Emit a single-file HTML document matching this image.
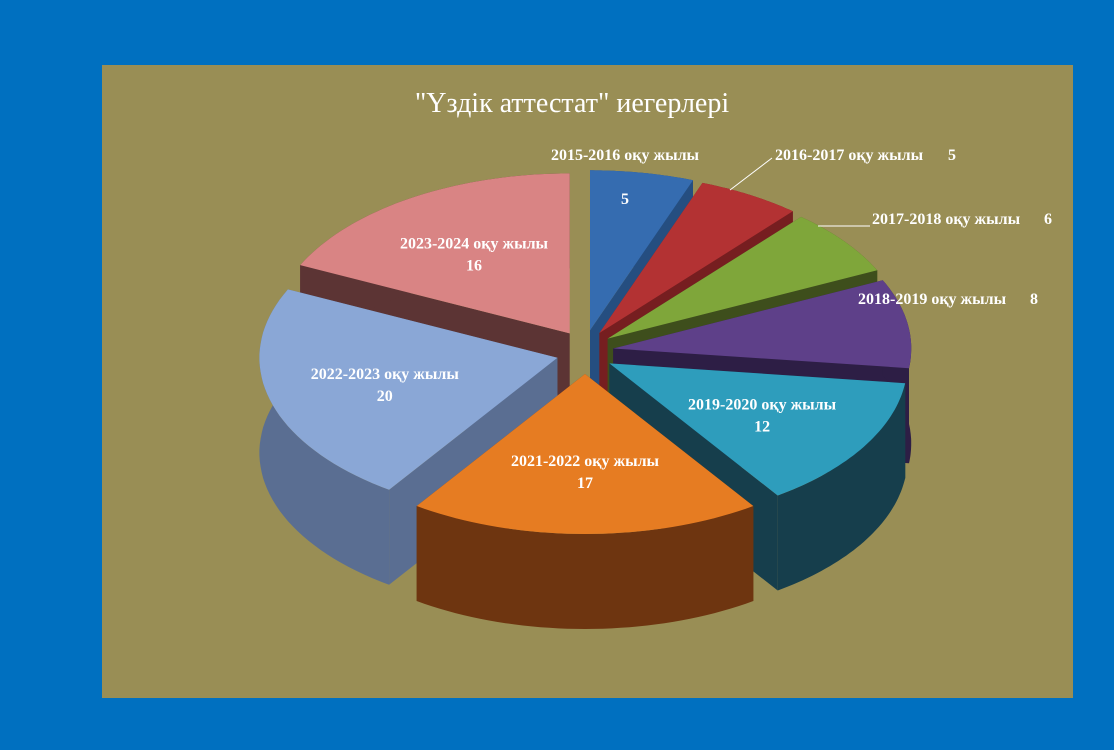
<!DOCTYPE html>
<html><head><meta charset="utf-8"><style>
html,body{margin:0;padding:0;background:#0070C0;}
#wrap{position:relative;width:1114px;height:750px;overflow:hidden;background:#0070C0;}
svg{position:absolute;left:0;top:0;}
</style></head><body>
<div id="wrap">
<svg id="chart" width="1114" height="750">
<rect x="102" y="65" width="971" height="633" fill="#998E55"/>
<text x="572" y="112" text-anchor="middle" font-family="Liberation Serif, serif" font-size="28" fill="#fff">"Үздік аттестат"  иегерлері</text>
<g id="slices"></g>
<g id="labels"></g>
</svg>
</div>
<script>
const categories = ["2015-2016 оқу жылы","2016-2017 оқу жылы","2017-2018 оқу жылы","2018-2019 оқу жылы","2019-2020 оқу жылы","2021-2022 оқу жылы","2022-2023 оқу жылы","2023-2024 оқу жылы"];
const values = [5,5,6,8,12,17,20,16];
const colors = ["#356CB0","#B33233","#7FA63A","#5E4089","#2E9DBC","#E67C22","#8AA7D6","#D98484"];
const sideColors = ["#254E80","#761E20","#3E4E1C","#2D1E45","#163E4C","#6E3510","#5A6E92","#5C3434"];

const svgNS="http://www.w3.org/2000/svg";
const cx=585, cy=352, rx=298, ry=160, depth=95, expl=22;
const total=values.reduce((a,b)=>a+b,0);
const gS=document.getElementById('slices'), gL=document.getElementById('labels');
function pt(ox,oy,t,dy){return [ox+rx*Math.cos(t), oy+ry*Math.sin(t)+(dy||0)];}
function poly(pts,fill,name){
  const p=document.createElementNS(svgNS,'path');
  p.setAttribute('d','M'+pts.map(q=>q[0].toFixed(1)+','+q[1].toFixed(1)).join('L')+'Z');
  p.setAttribute('fill',fill);
  
  
  gS.appendChild(p);
}
let a=-Math.PI/2;
const sl=[];
values.forEach((v,i)=>{const s=a, e=a+v/total*2*Math.PI; a=e; sl.push({i,s,e,m:(s+e)/2});});
const order=sl.slice().sort((p,q)=>Math.sin(p.m)-Math.sin(q.m));
order.forEach(o=>{
  const ox=cx+expl*Math.cos(o.m)*1.3, oy=cy+expl*Math.sin(o.m);
  const n=40, arcT=[], arcB=[];
  for(let k=0;k<=n;k++){const t=o.s+(o.e-o.s)*k/n; arcT.push(pt(ox,oy,t)); arcB.push(pt(ox,oy,t,depth));}
  const c0=[ox,oy], c1=[ox,oy+depth];
  const sc=sideColors[o.i];
  poly([c0,arcT[0],arcB[0],c1],sc,'slice-wall-start-'+o.i);
  poly([c0,arcT[n],arcB[n],c1],sc,'slice-wall-end-'+o.i);
  poly(arcT.concat(arcB.slice().reverse()),sc,'slice-side-'+o.i);
  poly([c0].concat(arcT),colors[o.i],'slice-top-'+o.i);
  o.ox=ox;o.oy=oy;
});
function txt(x,y,s,name,anchor){
  const t=document.createElementNS(svgNS,'text');
  t.setAttribute('x',x);t.setAttribute('y',y);
  t.setAttribute('text-anchor',anchor||'middle');
  t.setAttribute('font-family','Liberation Serif, serif');
  t.setAttribute('font-weight','bold');t.setAttribute('font-size','16');
  t.setAttribute('fill','#fff');t.textContent=s;
  
  
  gL.appendChild(t);
}
function line(pts,name){
  const p=document.createElementNS(svgNS,'polyline');
  p.setAttribute('points',pts.map(q=>q.join(',')).join(' '));
  p.setAttribute('fill','none');p.setAttribute('stroke','#fff');p.setAttribute('stroke-width','1');
  
  
  gL.appendChild(p);
}
sl.forEach(o=>{
  const i=o.i, c=categories[i], v=values[i];
  if(i===0){txt(625,160,c,'label-cat-0');txt(625,204,String(v),'label-val-0');}
  else if(i===1){txt(775,160,c,'label-cat-1','start');txt(952,160,String(v),'label-val-1');line([[730,190],[772,158]],'leader-1');}
  else if(i===2){txt(872,224,c,'label-cat-2','start');txt(1048,224,String(v),'label-val-2');line([[818,226],[870,226]],'leader-2');}
  else if(i===3){txt(858,304,c,'label-cat-3','start');txt(1034,304,String(v),'label-val-3');}
  else{
    const x=o.ox+rx*0.6*Math.cos(o.m), y=o.oy+ry*0.6*Math.sin(o.m);
    txt(x.toFixed(1),(y-4).toFixed(1),c,'label-cat-'+i);
    txt(x.toFixed(1),(y+18).toFixed(1),String(v),'label-val-'+i);
  }
});
</script>
</body></html>
